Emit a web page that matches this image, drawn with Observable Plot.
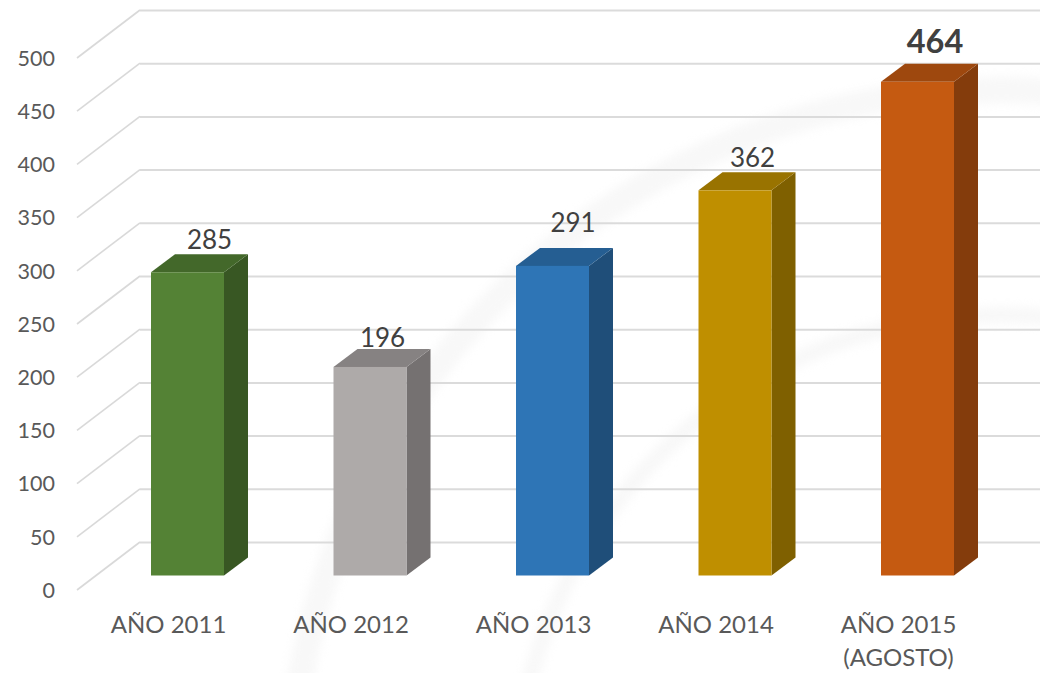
<!DOCTYPE html>
<html><head><meta charset="utf-8">
<script src="https://cdn.jsdelivr.net/npm/d3@7"></script>
<script src="https://cdn.jsdelivr.net/npm/@observablehq/plot@0.6"></script>
<style>html,body{margin:0;padding:0;background:#fff;overflow:hidden}svg{display:block}</style>
</head><body><div id="chart"></div>
<script>
const years = ["AÑO 2011","AÑO 2012","AÑO 2013","AÑO 2014","AÑO 2015\n(AGOSTO)"];
const totals = [285,196,291,362,464];
const yTicks = [0,50,100,150,200,250,300,350,400,450,500];
const rows = years.map((year,i)=>({year,total:totals[i]}));

const frontColors = ["#548235","#AEAAA9","#2E75B6","#BF8F00","#C55A11"];
const sideColors  = ["#385723","#757171","#1F4E79","#7F6000","#843C0C"];
const topColors   = ["#43682A","#868282","#255E92","#997300","#9E480E"];
const labelShift  = [[21.5,-32],[12,-29],[20,-43],[17,-32],[17,-40]];
const depth = {x:24,y:-18};
const wall = {x:63,y:-48,front:14.5,back:-33.5};
const FONT = "Lato, sans-serif";
const NS = "http://www.w3.org/2000/svg";

function poly(g,pts,fill){
  const p=document.createElementNS(NS,"polygon");
  p.setAttribute("points",pts.map(q=>q.join(",")).join(" "));
  p.setAttribute("fill",fill);g.appendChild(p);
}
const faces = (index,scales,values,dim,ctx,next)=>{
  const g=document.createElementNS(NS,"g");
  const drawn=next(index,scales,values,dim,ctx);
  const bars=[...drawn.querySelectorAll("rect")];
  Array.from(index).forEach((i,k)=>{
    const r=bars[k];
    const x0=+r.getAttribute("x"), w=+r.getAttribute("width"),
          yt=+r.getAttribute("y"), h=+r.getAttribute("height");
    const x1=x0+w, yb=yt+h;
    poly(g,[[x1,yt],[x1+depth.x,yt+depth.y],[x1+depth.x,yb+depth.y],[x1,yb]],sideColors[i]);
    poly(g,[[x0,yt],[x0+depth.x,yt+depth.y],[x1+depth.x,yt+depth.y],[x1,yt]],topColors[i]);
  });
  g.appendChild(drawn);
  return g;
};
const diagonals = (index,scales,values,dim)=>{
  const g=document.createElementNS(NS,"g");
  for(const t of yTicks){
    const l=document.createElementNS(NS,"line");
    const y=scales.y(t)+wall.front;
    l.setAttribute("x1",dim.marginLeft-wall.x);l.setAttribute("y1",y);
    l.setAttribute("x2",dim.marginLeft);l.setAttribute("y2",y+wall.y);
    l.setAttribute("stroke","#D9D9D9");l.setAttribute("stroke-width",1.6);
    g.appendChild(l);
  }
  return g;
};
// the faint seal behind the chart
const watermark = ()=>{
  const g=document.createElementNS(NS,"g");
  g.setAttribute("style","filter:blur(5px)");
  for(const [r,sw] of [[710,26],[485,16]]){
    const c=document.createElementNS(NS,"circle");
    c.setAttribute("cx",1000);c.setAttribute("cy",800);c.setAttribute("r",r);
    c.setAttribute("fill","none");c.setAttribute("stroke","#F8F8F8");c.setAttribute("stroke-width",sw);
    g.appendChild(c);
  }
  return g;
};

const chart = Plot.plot({
  width:1040,height:673,
  marginTop:43.5,marginBottom:97.5,marginLeft:140,marginRight:0,
  style:{background:"transparent",fontFamily:FONT},
  x:{type:"band",domain:years,range:[132.75,972.25],paddingInner:0.6,paddingOuter:0.1,align:0.5,round:false,label:null},
  y:{domain:[0,500],label:null},
  marks:[
    watermark,
    diagonals,
    Plot.ruleY(yTicks,{stroke:"#DBDBDB",strokeWidth:2,dy:wall.back}),
    Plot.axisY(yTicks,{anchor:"left",tickSize:0,dx:-85.5,dy:wall.front+0.5,fontSize:21.5,fill:"#595959",tickPadding:0,label:null,textAnchor:"end",fontFamily:FONT}),
    Plot.axisX({anchor:"bottom",tickSize:0,tickPadding:33,dx:-19.5,fontSize:24,lineHeight:1.38,fill:"#595959",label:null,fontFamily:FONT}),
    Plot.barY(rows,{x:"year",y:"total",fill:(d,i)=>frontColors[i],render:faces}),
    ...rows.map((r,i)=>Plot.text([r],{
      x:"year",y:"total",text:d=>String(d.total),
      dx:labelShift[i][0],dy:labelShift[i][1],
      fontSize:i===4?32.5:26,fontWeight:i===4?"bold":"normal",fill:"#404040",fontFamily:FONT
    }))
  ]
});
document.getElementById("chart").appendChild(chart);
</script></body></html>
